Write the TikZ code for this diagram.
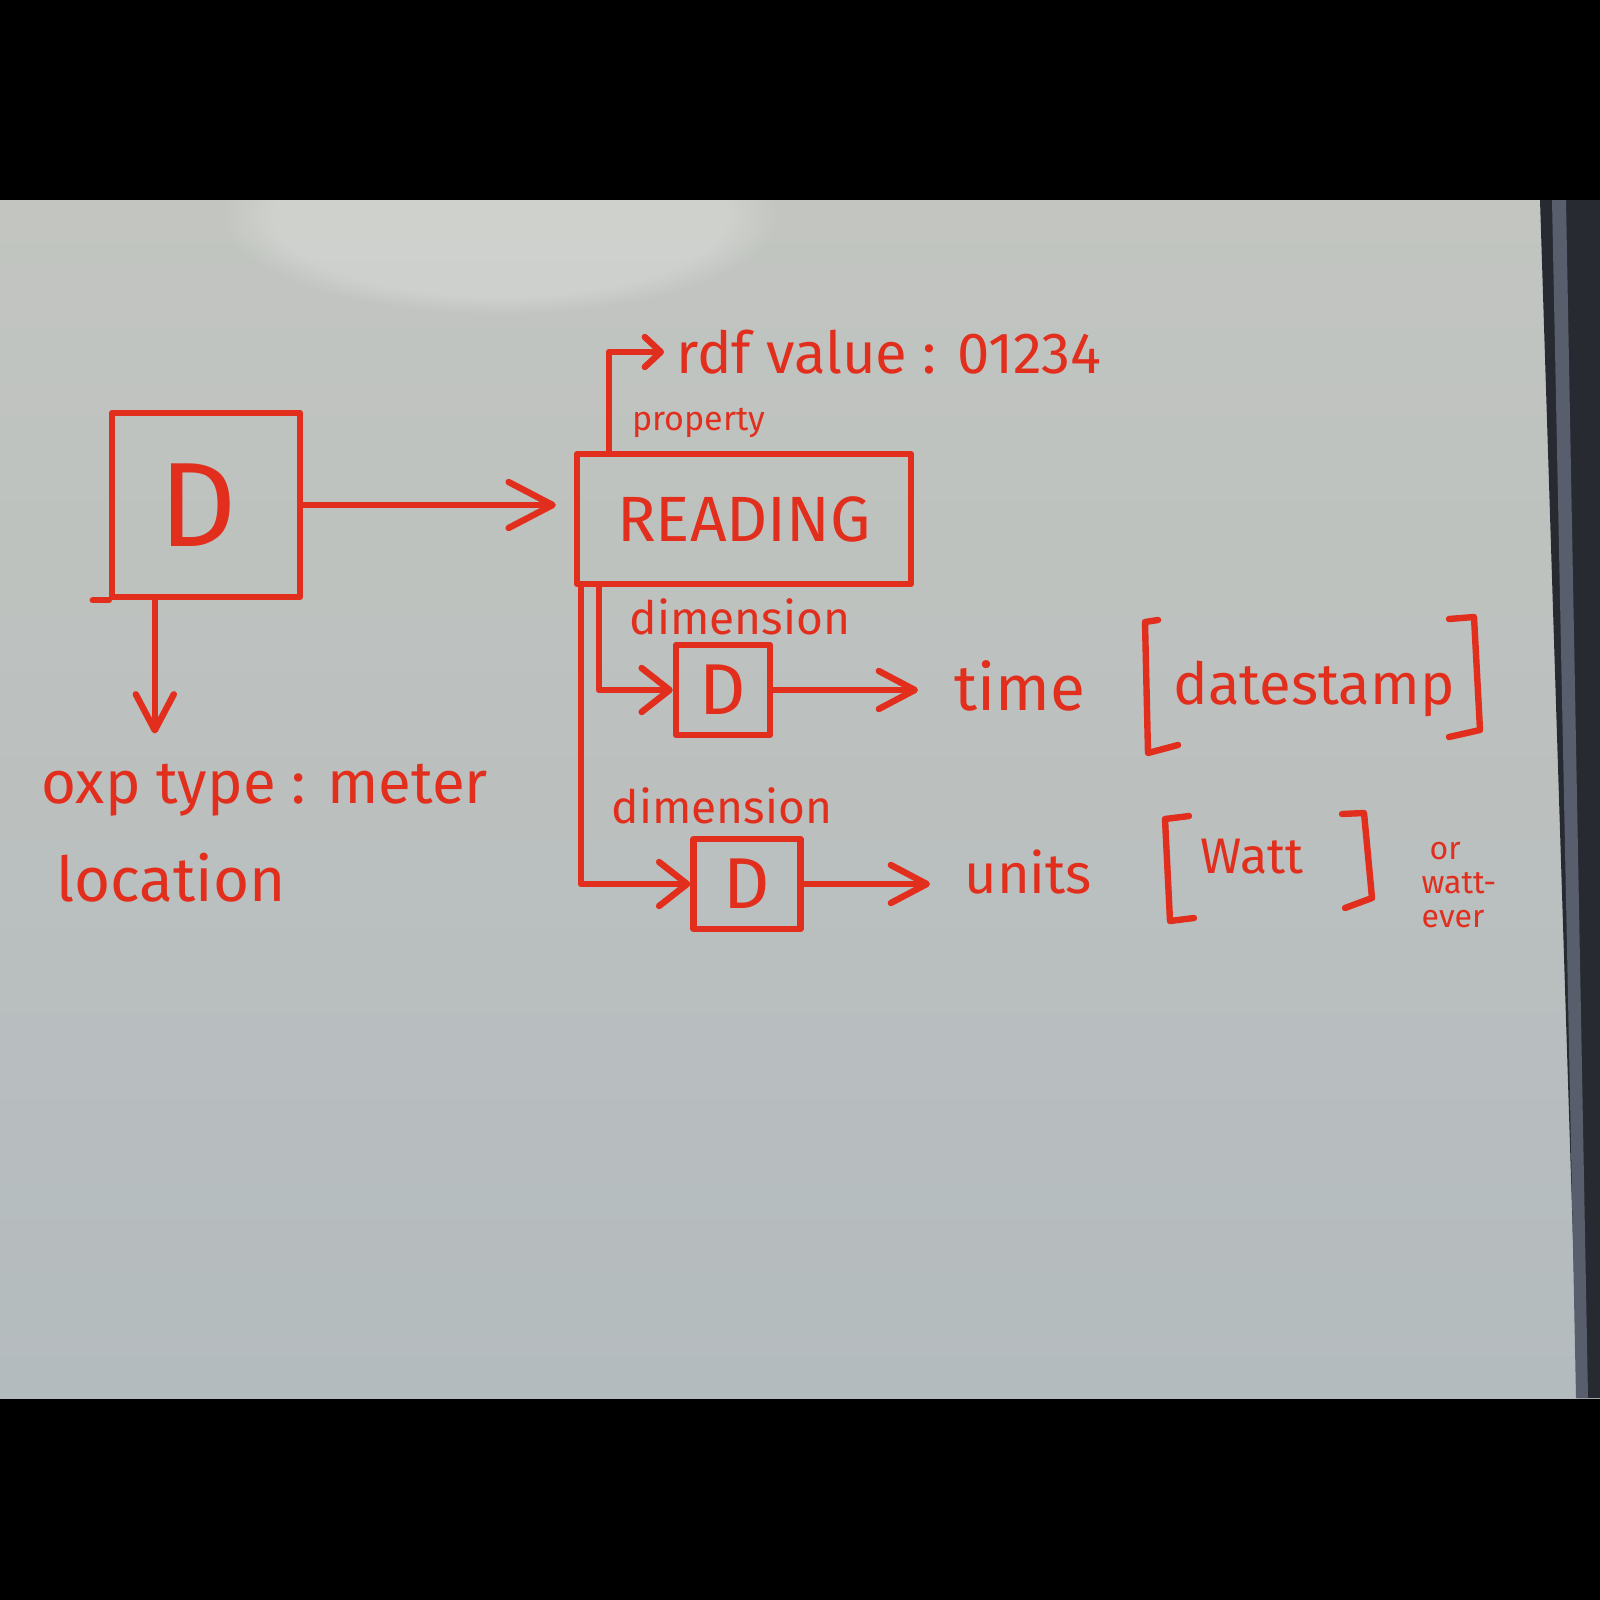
\documentclass[tikz,border=0pt]{standalone}
\usepackage{fontspec}
\setmainfont{Fira Sans}
\usetikzlibrary{arrows.meta,fadings}
\definecolor{marker}{RGB}{226,46,28}
\definecolor{boardtop}{RGB}{194,197,192}
\definecolor{boardbot}{RGB}{180,187,190}
\definecolor{frame}{RGB}{40,42,50}
\definecolor{framelight}{RGB}{88,94,108}
\newcommand\fs[1]{\fontsize{#1}{#1}\selectfont}
\begin{document}
\begin{tikzpicture}[x=0.5pt,y=-0.5pt,
  ink/.style={draw=marker, line width=3.2pt, line cap=round, line join=round},
  pen/.style={text=marker, inner sep=0pt},
  box/.style={ink, text=marker, inner sep=0pt},
  bigtip/.style={-{Straight Barb[length=22pt,width=23pt,line cap=round,line join=round]}},
  midtip/.style={-{Straight Barb[length=18pt,width=19pt,line cap=round,line join=round]}},
  dtip/.style={-{Straight Barb[length=14pt,width=22pt,line cap=round,line join=round]}},
  smalltip/.style={-{Straight Barb[length=8pt,width=15pt,line cap=round,line join=round]}}]
\useasboundingbox (0,0) rectangle (1600,1600);

% board, black surround and frame
\fill[black] (0,0) rectangle (1600,1600);
\shade[top color=boardtop, bottom color=boardbot] (0,200) rectangle (1600,1398);
\begin{scope}
  \clip (0,200) rectangle (1600,1398);
  \fill[white, opacity=0.22, path fading=circle with fuzzy edge 20 percent] (500,215) ellipse (280 and 100);
\end{scope}
\fill[frame] (1540,200) -- (1600,200) -- (1600,1398) -- (1578,1398) -- cycle;
\fill[framelight] (1552,200) -- (1566,200) -- (1588,1398) -- (1576,1398) -- cycle;

% device box and its type
\node[box, minimum width=94pt, minimum height=92pt, font=\fs{60}] (bigD) at (206,505) {\hspace*{-8pt}D};
\draw[ink] (bigD.south west) -- ++(-8pt,0);
\node[pen, anchor=west, font=\fs{30}] (oxp) at (41,790) {oxp type : meter};
\node[pen, anchor=west, font=\fs{31}] (loc) at (56,878) {location};

% reading box
\node[box, minimum width=167pt, minimum height=65pt, font=\fs{32}] (reading) at (744,519) {READING};
\node[pen, anchor=west, font=\fs{29}] (rdf) at (676,352) {rdf value : 01234};
\node[pen, font=\fs{17}] (prop) at (699,423) {property};

% dimensions
\node[pen, font=\fs{23}] (dim1) at (740,617) {dimension};
\node[box, minimum width=47pt, minimum height=45pt, font=\fs{36}] (d1) at (723,690) {D};
\node[pen, anchor=west, font=\fs{32}] (time) at (954,686) {time};
\node[pen, font=\fs{29}] (stamp) at (1314,689) {datestamp};

\node[pen, font=\fs{23}] (dim2) at (722,806) {dimension};
\node[box, minimum width=53.5pt, minimum height=45pt, font=\fs{36}] (d2) at (747,884) {D};
\node[pen, anchor=west, font=\fs{28}] (units) at (964,872) {units};
\node[pen, font=\fs{25}] (watt) at (1252,857) {Watt};
\node[pen, align=left, font=\fontsize{16}{17}\selectfont] (alt) at (1459,885) {\hspace*{4pt}or\\watt-\\ever};

% brackets
\draw[ink] (1158,620) -- (1145,622) -- (1148,753) -- (1178,745);
\draw[ink] (1449,619) -- (1474,617) -- (1480,730) -- (1449,737);
\draw[ink] (1189,816) -- (1165,819) -- (1170,921) -- (1194,918);
\draw[ink] (1342,814) -- (1364,813) -- (1372,898) -- (1345,908);

% connectors
\draw[ink, bigtip, shorten >=9pt] (bigD.east) -- (reading.west |- bigD.east);
\draw[ink, midtip, shorten >=15pt] ([xshift=23pt]bigD.south west) -- ([xshift=23pt]bigD.south west |- oxp.north);
\draw[ink, smalltip, shorten >=6pt] ([xshift=17.5pt]reading.north west) |- (rdf.west);
\draw[ink, dtip] ([xshift=12.5pt]reading.south west) |- (d1.west);
\draw[ink, dtip] ([xshift=3.5pt]reading.south west) |- (d2.west);
\draw[ink, midtip, shorten >=18pt] (d1.east) -- (d1.east -| time.west);
\draw[ink, midtip, shorten >=17pt] (d2.east) -- (d2.east -| units.west);
\end{tikzpicture}
\end{document}
